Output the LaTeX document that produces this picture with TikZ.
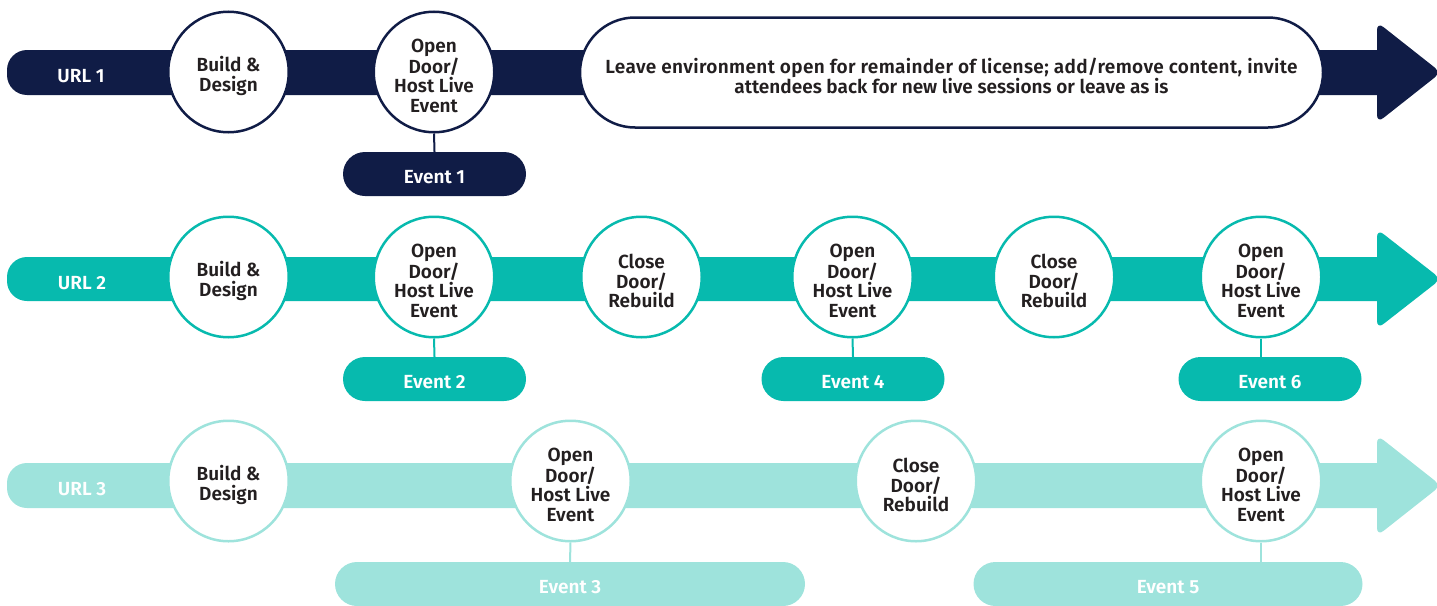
\documentclass[tikz,border=0pt]{standalone}
\usepackage{fontspec}
\setmainfont{Fira Sans}[BoldFont={Fira Sans SemiBold}]
\newfontfamily\spacedfont{Fira Sans SemiBold}[LetterSpace=1.8]
\usetikzlibrary{shapes.misc}
\definecolor{navy}{HTML}{101C46}
\definecolor{teal}{HTML}{07BAAE}
\definecolor{lteal}{HTML}{9EE3DC}
\definecolor{ink}{HTML}{231F20}
\newcommand\stagenode[4]{%
  \node[stage=#2] (#1) at (#3) {};
  \node[stagetext] (#1t) at ([yshift=-4pt]#1.center) {#4};
}
\begin{document}
\begin{tikzpicture}[x=1pt,y=-1pt,
  stage/.style={circle, draw=#1, line width=2.5pt, fill=white, minimum size=120.5pt, inner sep=0pt},
  stagetext/.style={align=center, inner sep=0pt, text=ink, font=\bfseries\fontsize{19}{19.5}\selectfont},
  pill/.style={rounded rectangle, fill=#1, minimum height=44pt, inner sep=0pt, text=white, text height=19pt, text depth=0pt, font=\bfseries\fontsize{19}{20}\selectfont},
  link/.style={draw=#1, line width=2pt},
  urllabel/.style={text=white, text height=19pt, text depth=0pt, inner sep=0pt, font=\bfseries\fontsize{19}{20}\selectfont},
  bar/.style={fill=#1, rounded corners=20pt},
  head/.style={fill=#1, rounded corners=8pt}
]
\useasboundingbox (0,0) rectangle (1437,605);

% ---------- row 1 ----------
\fill[bar=navy] (7,50) rectangle (1400,95);
\fill[head=navy] (1377,22) -- (1441,72.5) -- (1377,123) -- cycle;
\node[urllabel] (u1) at (81,72.5) {URL 1};
\stagenode{a1}{navy}{228.5,72}{Build \&\\Design}
\stagenode{a2}{navy}{434,72}{Open\\Door/\\Host Live\\Event}
\node[rounded rectangle, draw=navy, line width=2.5pt, fill=white, minimum width=743pt, minimum height=110pt, inner sep=0pt] (box) at (951.5,72.5) {};
\node[align=center, inner sep=0pt, text=ink, font=\spacedfont\fontsize{19}{20}\selectfont] (boxt) at ([yshift=-3.5pt]box.center)
  {Leave environment open for remainder of license; add/remove content, invite\\\addfontfeature{LetterSpace=0}attendees back for new live sessions or leave as is};
\node[pill=navy, minimum width=183pt] (e1) at (434.5,174) {Event 1};
\draw[link=navy] (a2.south) -- (e1.north);

% ---------- row 2 ----------
\fill[bar=teal] (7,257) rectangle (1400,301);
\fill[head=teal] (1377,229) -- (1441,279) -- (1377,329) -- cycle;
\node[urllabel] (u2) at (82,279.5) {URL 2};
\stagenode{b1}{teal}{228.5,277}{Build \&\\Design}
\stagenode{b2}{teal}{434,277}{Open\\Door/\\Host Live\\Event}
\stagenode{b3}{teal}{641.5,277}{Close\\Door/\\Rebuild}
\stagenode{b4}{teal}{852.5,277}{Open\\Door/\\Host Live\\Event}
\stagenode{b5}{teal}{1054,277}{Close\\Door/\\Rebuild}
\stagenode{b6}{teal}{1261,277}{Open\\Door/\\Host Live\\Event}
\node[pill=teal, minimum width=183pt] (e2) at (434.5,379) {Event 2};
\node[pill=teal, minimum width=183pt] (e4) at (853,379) {Event 4};
\node[pill=teal, minimum width=183pt] (e6) at (1270,379) {Event 6};
\draw[link=teal] (b2.south) -- (e2.north);
\draw[link=teal] (b4.south) -- (e4.north);
\draw[link=teal] (b6.south) -- (b6.south |- e6.north);

% ---------- row 3 ----------
\fill[bar=lteal] (7,463) rectangle (1400,508);
\fill[head=lteal] (1377,435) -- (1441,485.5) -- (1377,536) -- cycle;
\node[urllabel] (u3) at (82,486) {URL 3};
\stagenode{c1}{lteal}{228.5,481}{Build \&\\Design}
\stagenode{c2}{lteal}{570.5,481}{Open\\Door/\\Host Live\\Event}
\stagenode{c3}{lteal}{916,481}{Close\\Door/\\Rebuild}
\stagenode{c4}{lteal}{1261,481}{Open\\Door/\\Host Live\\Event}
\node[pill=lteal, minimum width=470pt] (e3) at (570,584) {Event 3};
\node[pill=lteal, minimum width=389pt] (e5) at (1168,584) {Event 5};
\draw[link=lteal] (c2.south) -- (e3.north);
\draw[link=lteal] (c4.south) -- (c4.south |- e5.north);
\end{tikzpicture}
\end{document}
